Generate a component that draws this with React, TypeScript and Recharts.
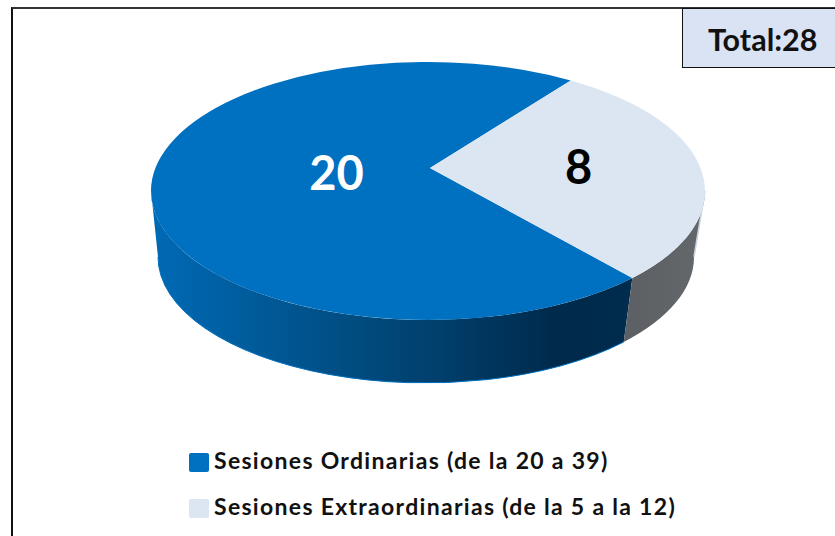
import { PieChart, Pie, Legend } from "recharts";

const categories = [
  "Sesiones Ordinarias (de la 20 a 39)",
  "Sesiones Extraordinarias (de la 5 a la 12)",
];
const sessions = [20, 8];
const sliceColors = ["#0070c0", "#dce6f2"];

const data = categories.map((name, i) => ({
  name,
  value: sessions[i],
  fill: sliceColors[i],
}));
const total = sessions.reduce((a, b) => a + b, 0);

// Perspective of the tilted disc: the circle centre projects above the ellipse centre
const TILT = 0.178;
const HORIZON = (Math.asin(TILT) * 180) / Math.PI;
const squash = Math.sqrt(1 - TILT * TILT);
const TOP = { cx: 428, cy: 191, rx: 277, ry: 129, apexY: 168 };
const BOTTOM = { cx: 426, cy: 257, rx: 268, ry: 126, apexY: 234.5 };
const APEX_X = 430;

// value labels, as a share of the radius
const labelRatio = [0.335, 0.555];
const labelDy = [3, 0];
const labelFill = ["#ffffff", "#000000"];

const rad = (deg: number) => (deg * Math.PI) / 180;
const pt = (e: typeof TOP, deg: number, r = 1) => {
  const d = 1 + TILT * r * Math.sin(rad(deg));
  return {
    x: e.cx + (e.rx * squash * r * Math.cos(rad(deg))) / d,
    y: e.apexY - (e.ry * (1 - TILT * TILT) * r * Math.sin(rad(deg))) / d,
  };
};

function wallPath(hi: number, lo: number) {
  const a = pt(TOP, hi);
  const b = pt(TOP, lo);
  const c = pt(BOTTOM, lo);
  const d = pt(BOTTOM, hi);
  return {
    body:
      `M${a.x},${a.y} A${TOP.rx},${TOP.ry} 0 0 1 ${b.x},${b.y} ` +
      `L${c.x},${c.y} A${BOTTOM.rx},${BOTTOM.ry} 0 0 0 ${d.x},${d.y} Z`,
    rim: `M${c.x},${c.y} A${BOTTOM.rx},${BOTTOM.ry} 0 0 0 ${d.x},${d.y}`,
    seam: `M${a.x},${a.y} L${d.x},${d.y}`,
  };
}

function DiscSlice(props: any) {
  const { startAngle, endAngle, fill } = props;
  const first = Math.max(startAngle, endAngle);
  const last = Math.min(startAngle, endAngle);
  const s = pt(TOP, first);
  const e = pt(TOP, last);
  const isBlue = fill === sliceColors[0];

  // only the part of the slice facing the viewer gets a wall
  const walls: { hi: number; lo: number }[] = [];
  for (const k of [0, 1]) {
    const hi = Math.min(first, -HORIZON - 360 * k);
    const lo = Math.max(last, -180 + HORIZON - 360 * k);
    if (hi > lo) walls.push({ hi, lo });
  }

  return (
    <g>
      <defs>
        <linearGradient id="wallBlue" gradientUnits="userSpaceOnUse" x1={151} x2={632} y1={0} y2={0}>
          <stop offset="0" stopColor="#006ab6" />
          <stop offset="0.3" stopColor="#00558f" />
          <stop offset="0.6" stopColor="#003f6c" />
          <stop offset="0.85" stopColor="#00294a" />
          <stop offset="1" stopColor="#002c4e" />
        </linearGradient>
        <linearGradient id="wallGrey" gradientUnits="userSpaceOnUse" x1={626} x2={705} y1={0} y2={0}>
          <stop offset="0" stopColor="#5c6064" />
          <stop offset="1" stopColor="#64686b" />
        </linearGradient>
      </defs>
      {walls.map((w, i) => {
        const p = wallPath(w.hi, w.lo);
        return (
          <g key={i}>
            <path d={p.body} fill={isBlue ? "url(#wallBlue)" : "url(#wallGrey)"} />
            {isBlue && <path d={p.rim} fill="none" stroke="#0070c0" strokeWidth={1} />}
            {!isBlue && <path d={p.seam} fill="none" stroke="#c9d4dc" strokeWidth={1.5} />}
          </g>
        );
      })}
      <path
        d={`M${APEX_X},${TOP.apexY} L${s.x},${s.y} A${TOP.rx},${TOP.ry} 0 ${
          first - last > 180 ? 1 : 0
        } 1 ${e.x},${e.y} Z`}
        fill={fill}
      />
    </g>
  );
}

function ValueLabel(props: any) {
  const { midAngle, value, index } = props;
  const p = pt(TOP, midAngle, labelRatio[index]);
  return (
    <text
      x={p.x}
      y={p.y + labelDy[index]}
      fill={labelFill[index]}
      textAnchor="middle"
      dominantBaseline="central"
      fontFamily="Lato"
      fontWeight={700}
      fontSize={47}
    >
      {value}
    </text>
  );
}

function LegendList({ payload }: any) {
  return (
    <div>
      {(payload || []).map((item: any) => (
        <div
          key={item.value}
          style={{ display: "flex", alignItems: "center", height: 46 }}
        >
          <span
            style={{
              width: 20,
              height: 19,
              borderRadius: 2,
              background: item.color,
              marginRight: 5,
            }}
          />
          <span
            style={{
              position: "relative",
              top: -2,
              fontFamily: "Lato",
              fontWeight: 700,
              fontSize: 23,
              letterSpacing: 1.3,
              color: "#111",
              whiteSpace: "nowrap",
            }}
          >
            {item.value}
          </span>
        </div>
      ))}
    </div>
  );
}

export default function App() {
  return (
    <div
      style={{
        position: "absolute",
        left: 0,
        top: 0,
        width: 835,
        height: 536,
        background: "#fff",
        overflow: "hidden",
      }}
    >
      {/* chart frame, cropped on the right and bottom */}
      <div
        style={{
          position: "absolute",
          left: 11,
          top: 7,
          width: 830,
          height: 540,
          borderLeft: "2px solid #111",
          borderTop: "2px solid #333",
        }}
      />
      <PieChart
        width={835}
        height={536}
        margin={{ top: 0, right: 0, bottom: 0, left: 0 }}
        style={{ position: "absolute", left: 0, top: 0 }}
      >
        <Pie
          data={data}
          dataKey="value"
          nameKey="name"
          cx={TOP.cx}
          cy={TOP.cy}
          outerRadius={TOP.rx}
          startAngle={-49.6}
          endAngle={-409.6}
          stroke="none"
          shape={DiscSlice}
          label={ValueLabel}
          labelLine={false}
          isAnimationActive={false}
        />
        <Legend
          layout="vertical"
          align="left"
          verticalAlign="top"
          itemSorter={null}
          content={<LegendList />}
          wrapperStyle={{ left: 189, top: 439, width: 560 }}
        />
      </PieChart>
      <div
        style={{
          position: "absolute",
          left: 682,
          top: 8,
          width: 160,
          height: 60,
          boxSizing: "border-box",
          background: "#dae3f3",
          border: "1px solid #111",
          fontFamily: "Lato",
          fontWeight: 700,
          fontSize: 30.5,
          lineHeight: "60px",
          paddingLeft: 25,
          color: "#111",
        }}
      >
        Total:{total}
      </div>
    </div>
  );
}
